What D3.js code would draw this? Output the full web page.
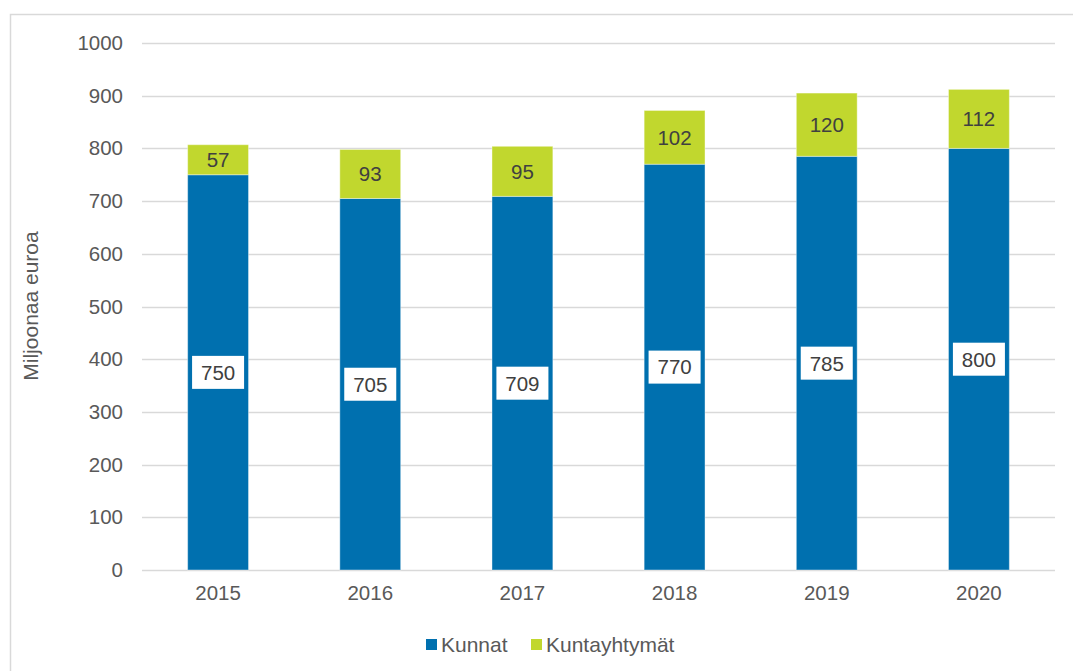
<!DOCTYPE html>
<html lang="fi">
<head>
<meta charset="UTF-8">
<title>Miljoonaa euroa</title>
<style>
  body { margin: 0; padding: 0; background: #fff; font-family: "Liberation Sans", Arial, sans-serif; }
  svg { display: block; }
</style>
</head>
<body>
<div id="chart"></div>
<script src="https://d3js.org/d3.v7.min.js"></script>
<script>
const years = ["2015", "2016", "2017", "2018", "2019", "2020"];
const kunnat = [750, 705, 709, 770, 785, 800];
const kuntayhtymat = [57, 93, 95, 102, 120, 112];
const yTicks = [0, 100, 200, 300, 400, 500, 600, 700, 800, 900, 1000];
const seriesNames = ["Kunnat", "Kuntayhtymät"];
const colors = ["#0070af", "#c1d72e"];

const W = 1073, H = 671;
const margin = { top: 43, right: 18, bottom: 101, left: 142 };
const innerW = W - margin.left - margin.right;
const innerH = H - margin.top - margin.bottom;
const fontFam = "'Liberation Sans', Arial, sans-serif";

const svg = d3.select("#chart").append("svg")
    .attr("width", W)
    .attr("height", H)
    .style("font-family", fontFam);

// outer chart border
svg.append("rect")
    .attr("x", 10.5).attr("y", 14.5)
    .attr("width", W + 10).attr("height", H + 10)
    .attr("fill", "none")
    .attr("stroke", "#d9d9d9")
    .attr("stroke-width", 1.5);

const g = svg.append("g")
    .attr("transform", "translate(" + margin.left + "," + margin.top + ")");

const x = d3.scaleBand()
    .domain(years)
    .range([0, innerW])
    .paddingInner(0.6)
    .paddingOuter(0.3);

const y = d3.scaleLinear()
    .domain([0, 1000])
    .range([innerH, 0]);

// gridlines
g.append("g")
    .selectAll("line")
    .data(yTicks)
    .join("line")
    .attr("x1", 0).attr("x2", innerW)
    .attr("y1", d => Math.round(y(d)) + 0.5)
    .attr("y2", d => Math.round(y(d)) + 0.5)
    .attr("stroke", "#d9d9d9")
    .attr("stroke-width", 1.5);

// y axis labels
const yAxis = g.append("g")
    .call(d3.axisLeft(y).tickValues(yTicks).tickFormat(d3.format("d")).tickSize(0).tickPadding(19));
yAxis.select(".domain").remove();
yAxis.selectAll("text")
    .attr("fill", "#595959")
    .style("font-size", "20.5px")
    .style("font-family", fontFam);

// x axis labels
const xAxis = g.append("g")
    .attr("transform", "translate(0," + innerH + ")")
    .call(d3.axisBottom(x).tickSize(0).tickPadding(15));
xAxis.select(".domain").remove();
xAxis.selectAll("text")
    .attr("fill", "#595959")
    .style("font-size", "20.5px")
    .style("font-family", fontFam);

// stacked data
const rows = years.map((yr, i) => ({ year: yr, Kunnat: kunnat[i], "Kuntayhtymät": kuntayhtymat[i] }));
const stack = d3.stack().keys(seriesNames)(rows);

const layers = g.selectAll(".layer")
    .data(stack)
    .join("g")
    .attr("class", "layer")
    .attr("fill", (d, i) => colors[i]);

layers.selectAll("rect")
    .data(d => d)
    .join("rect")
    .attr("x", d => x(d.data.year))
    .attr("y", d => y(d[1]))
    .attr("width", x.bandwidth())
    .attr("height", d => y(d[0]) - y(d[1]))
    .attr("stroke", "#ffffff")
    .attr("stroke-opacity", 0.4)
    .attr("stroke-width", 1);

// labels for Kunnat (white boxes)
const kLabels = g.append("g")
    .selectAll("g")
    .data(stack[0])
    .join("g")
    .attr("transform", d => "translate(" + (x(d.data.year) + x.bandwidth() / 2) + "," + y((d[0] + d[1]) / 2) + ")");

kLabels.append("rect")
    .attr("x", -26).attr("y", -16.5)
    .attr("width", 52).attr("height", 33)
    .attr("fill", "#ffffff");

kLabels.append("text")
    .attr("text-anchor", "middle")
    .attr("dy", "0.36em")
    .attr("fill", "#404040")
    .style("font-size", "20.5px")
    .text(d => d[1] - d[0]);

// labels for Kuntayhtymät
g.append("g")
    .selectAll("text")
    .data(stack[1])
    .join("text")
    .attr("x", d => x(d.data.year) + x.bandwidth() / 2)
    .attr("y", d => y((d[0] + d[1]) / 2))
    .attr("text-anchor", "middle")
    .attr("dy", "0.36em")
    .attr("fill", "#404040")
    .style("font-size", "20.5px")
    .text(d => d[1] - d[0]);

// y axis title
svg.append("text")
    .attr("transform", "translate(38,306) rotate(-90)")
    .attr("text-anchor", "middle")
    .attr("fill", "#595959")
    .style("font-size", "21px")
    .text("Miljoonaa euroa");

// legend
const legend = svg.append("g")
    .attr("transform", "translate(426,639)");
const legendX = [0, 105];
seriesNames.forEach((name, i) => {
    const item = legend.append("g").attr("transform", "translate(" + legendX[i] + ",0)");
    item.append("rect")
        .attr("width", 11).attr("height", 11)
        .attr("fill", colors[i]);
    item.append("text")
        .attr("x", 15).attr("y", 5.5)
        .attr("dy", "0.36em")
        .attr("fill", "#595959")
        .style("font-size", "21px")
        .text(name);
});
</script>
</body>
</html>
